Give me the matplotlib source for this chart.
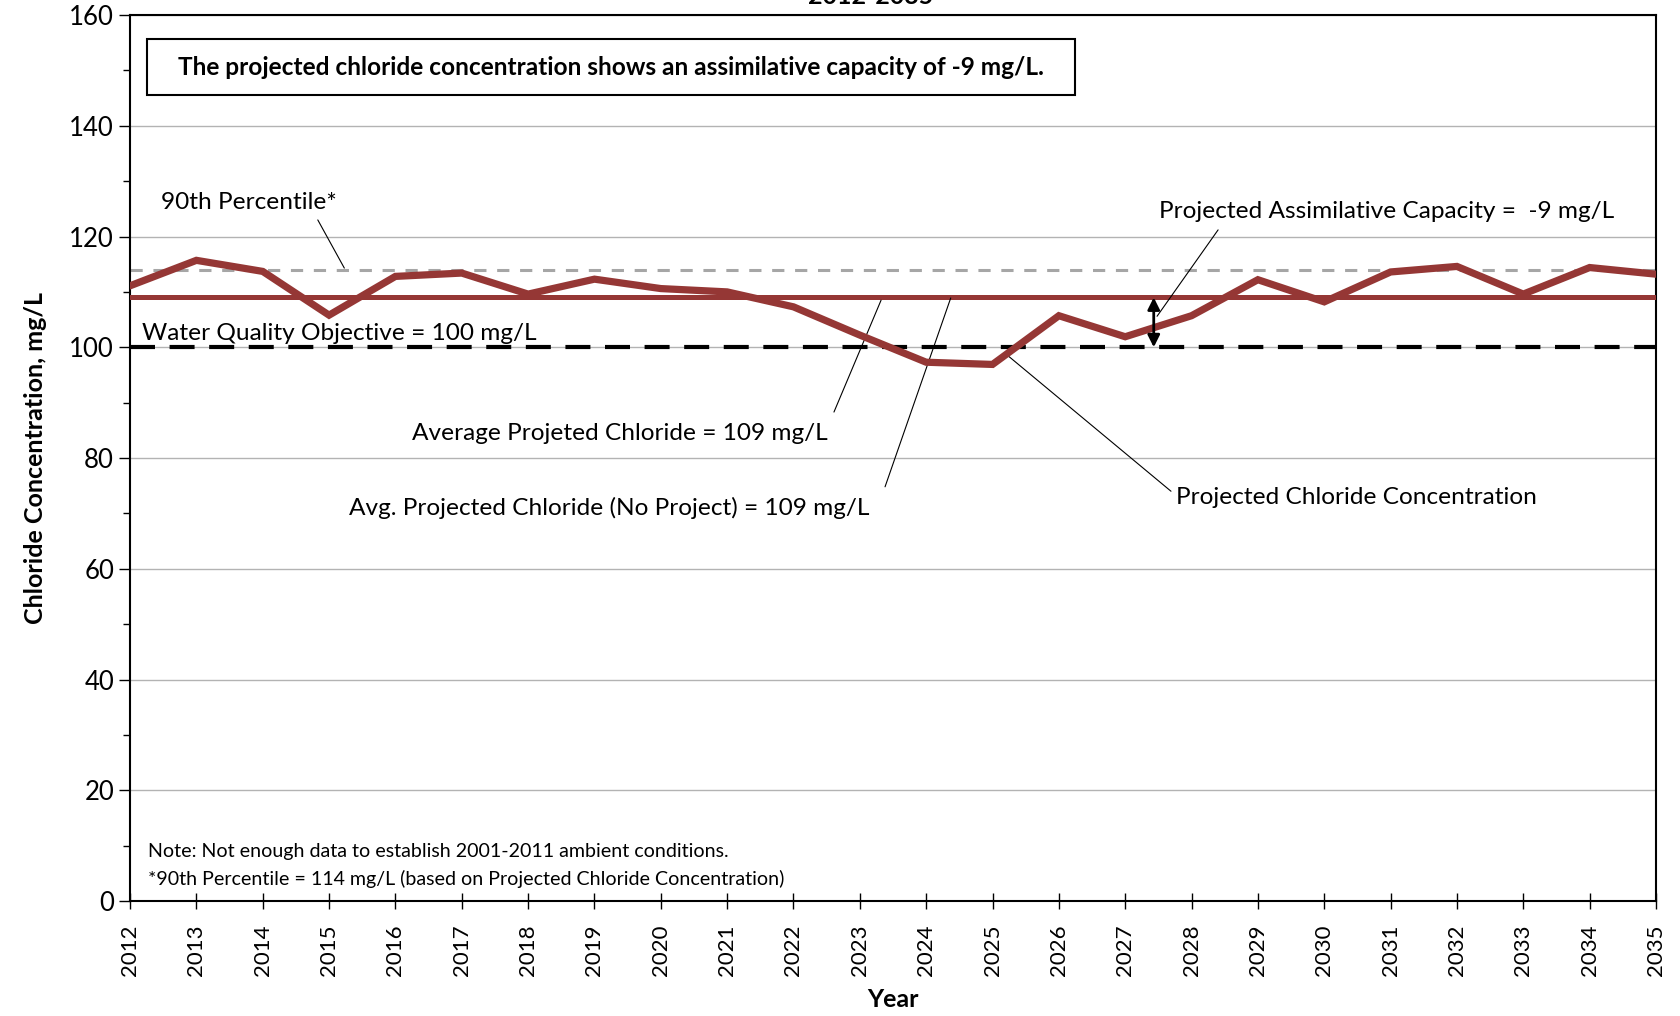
import matplotlib
matplotlib.use("Agg")
import matplotlib.pyplot as plt
from matplotlib.patches import Rectangle
from matplotlib.ticker import MultipleLocator

plt.rcParams['font.family'] = ['Lato', 'DejaVu Sans']

# data
years = list(range(2012, 2036))
chloride = [111.1, 115.7, 113.7, 105.8, 112.8, 113.4, 109.6, 112.3, 110.6, 110.0,
            107.3, 102.2, 97.3, 96.9, 105.7, 101.9, 105.7, 112.2, 108.2, 113.6,
            114.6, 109.6, 114.4, 113.2]
avg_projected = 109
avg_no_project = 109
percentile_90 = 114
wq_objective = 100
assim_year = 2027.43

red = '#953735'

fig = plt.figure(figsize=(16.8, 10.16), dpi=100)
ax = fig.add_axes([0.0774, 0.1132, 0.9083, 0.872])

ax.set_xlim(years[0], years[-1])
ax.set_ylim(0, 160)

# gridlines
ax.yaxis.set_major_locator(MultipleLocator(20))
ax.yaxis.set_minor_locator(MultipleLocator(10))
ax.grid(axis='y', which='major', color='#b3b3b3', lw=1.0, zorder=0)

# reference lines
ax.plot([years[0], years[-1]], [wq_objective] * 2, color='black', lw=3.0,
        dashes=(6, 3.5), zorder=3)
ax.plot([years[0], years[-1]], [percentile_90] * 2, color='#a6a6a6', lw=2.2,
        dashes=(4, 3.5), zorder=2)
ax.plot([years[0], years[-1]], [avg_no_project] * 2, color=red, lw=3.6, zorder=3)
ax.plot([years[0], years[-1]], [avg_projected] * 2, color=red, lw=3.6, zorder=3)

# projected chloride concentration
ax.plot(years, chloride, color=red, lw=5.2, solid_joinstyle='miter', zorder=4)

# assimilative capacity double arrow
ax.annotate('', xy=(assim_year, avg_projected), xytext=(assim_year, wq_objective),
            arrowprops=dict(arrowstyle='<|-|>', color='black', lw=2,
                            mutation_scale=18, shrinkA=0, shrinkB=0), zorder=5)

fs = 17.6
leader = dict(arrowstyle='-', color='black', lw=0.8, shrinkA=0, shrinkB=0)

ax.text(2012.47, 126.1, '90th Percentile*', fontsize=fs, va='center', ha='left')
ax.annotate('', xy=(2015.23, 114.3), xytext=(2014.83, 123.0), arrowprops=leader)

ax.text(2012.18, 102.4, 'Water Quality Objective = 100 mg/L', fontsize=fs,
        va='center', ha='left', zorder=6)

ax.text(2022.52, 84.5, 'Average Projeted Chloride = 109 mg/L', fontsize=fs,
        va='center', ha='right')
ax.annotate('', xy=(2023.32, 108.5), xytext=(2022.61, 88.3), arrowprops=leader)

ax.text(2023.15, 70.9, 'Avg. Projected Chloride (No Project) = 109 mg/L', fontsize=fs,
        va='center', ha='right')
ax.annotate('', xy=(2024.37, 108.9), xytext=(2023.38, 74.8), arrowprops=leader)

ax.text(2027.77, 72.8, 'Projected Chloride Concentration', fontsize=fs,
        va='center', ha='left')
ax.annotate('', xy=(2025.22, 98.6), xytext=(2027.69, 74.0), arrowprops=leader)

ax.text(2027.51, 124.6, 'Projected Assimilative Capacity =  -9 mg/L', fontsize=fs,
        va='center', ha='left')
ax.annotate('', xy=(2027.48, 105.6), xytext=(2028.40, 121.2), arrowprops=leader)

# message box
ax.add_patch(Rectangle((0.0111, 0.9097), 0.608, 0.0632, transform=ax.transAxes,
                       facecolor='white', edgecolor='black', lw=1.5, zorder=6))
ax.text(0.315, 0.9413,
        'The projected chloride concentration shows an assimilative capacity of -9 mg/L.',
        transform=ax.transAxes, fontsize=17.6, fontweight='bold', ha='center',
        va='center', zorder=7)

# notes
ax.text(0.0118, 0.0555, 'Note: Not enough data to establish 2001-2011 ambient conditions.',
        transform=ax.transAxes, fontsize=14.1, va='center', ha='left')
ax.text(0.0118, 0.025, '*90th Percentile = 114 mg/L (based on Projected Chloride Concentration)',
        transform=ax.transAxes, fontsize=14.1, va='center', ha='left')

# axes styling
ax.set_xticks(years)
ax.set_xticklabels([str(y) for y in years], rotation=90, fontsize=16)
ax.tick_params(axis='x', which='major', direction='inout', length=11.5, width=1, pad=11)
ax.tick_params(axis='y', which='major', direction='out', length=8, width=1,
               labelsize=18.5)
ax.tick_params(axis='y', which='minor', direction='out', length=5, width=1)
for s in ax.spines.values():
    s.set_linewidth(1.5)

ax.set_ylabel('Chloride Concentration, mg/L', fontsize=18, fontweight='bold', labelpad=16)
ax.set_xlabel('Year', fontsize=18, fontweight='bold', labelpad=9)

# title sits mostly above the figure edge, as in the reference
fig.text(0.518, 0.9965, '2012-2035', fontsize=18, fontweight='bold', ha='center',
         va='baseline')

fig.savefig('out.png', dpi=100)
